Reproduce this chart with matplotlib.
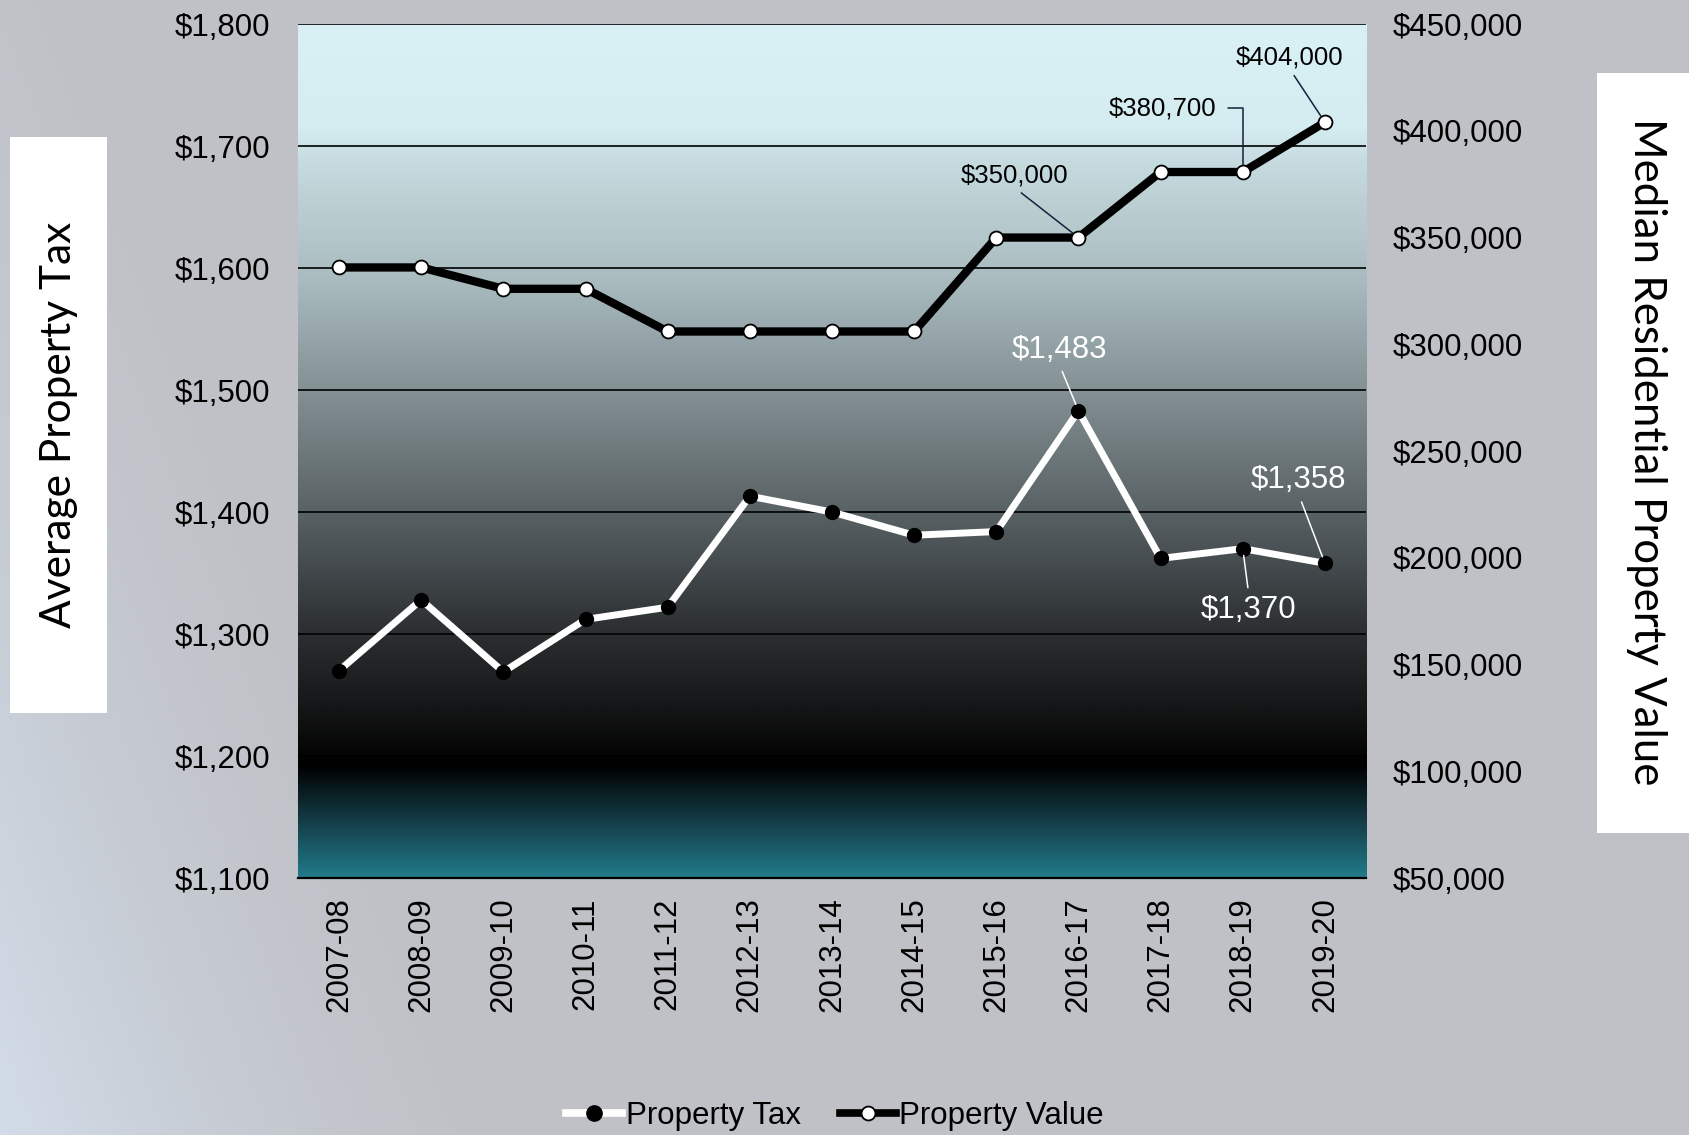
import numpy as np
import matplotlib.pyplot as plt
from matplotlib.colors import LinearSegmentedColormap, to_rgb
from matplotlib.lines import Line2D
from matplotlib.patches import Rectangle
from matplotlib.ticker import FuncFormatter

# fiscal years
years = ["2007-08", "2008-09", "2009-10", "2010-11", "2011-12", "2012-13", "2013-14",
         "2014-15", "2015-16", "2016-17", "2017-18", "2018-19", "2019-20"]
# average property tax ($)
property_tax = [1270, 1328, 1269, 1312, 1322, 1413, 1400, 1381, 1384, 1483, 1362, 1370, 1358]
# median residential property value ($)
property_value = [336000, 336000, 326000, 326000, 306000, 306000, 306000, 306000,
                  350000, 350000, 380700, 380700, 404000]

# which points get a value label, with the label offset in pixels
tax_callouts = {9: (-19, 61), 11: (6, -61), 12: (-26, 83)}
value_callouts = {9: (-64, 62), 11: (-80, 64), 12: (-35, 65)}

TICK_FONT = "Liberation Sans"
TITLE_FONT = "Lato"

fig = plt.figure(figsize=(16.9, 11.35), dpi=100)
fig.patch.set_facecolor("#bfc1c6")

# soft bluish sheen in the lower left of the slide background
bg = fig.add_axes([0, 0, 1, 1], zorder=-10)
bg.axis("off")
gx, gy = np.meshgrid(np.linspace(0, 1, 340), np.linspace(0, 1, 230))
w = np.clip(1.0 - gx / 0.30 - gy / 1.2, 0, 1) ** 1.5
base = np.array(to_rgb("#bfc1c6"))
hi = np.array(to_rgb("#d2dce8"))
bg.imshow(base + (hi - base) * w[..., None], extent=[0, 1, 0, 1], origin="lower",
          aspect="auto")
bg.set_xlim(0, 1)
bg.set_ylim(0, 1)

ax = fig.add_axes([0.1763, 0.2264, 0.632, 0.7524])
ax2 = ax.twinx()

# plot area fill: pale cyan fading down through grey to black, then teal
plot_cmap = LinearSegmentedColormap.from_list("plotfill", [
    (0.00, "#d9f0f5"), (0.12, "#d5ecf0"), (0.16, "#c6dbdf"), (0.30, "#a9bbbf"),
    (0.45, "#7d898d"), (0.57, "#596265"), (0.70, "#2f3335"), (0.80, "#151617"),
    (0.87, "#000000"), (0.93, "#133841"), (1.00, "#217a8a")])
grad = np.linspace(0, 1, 512)[:, None]
ax.imshow(grad, cmap=plot_cmap, extent=[-0.5, 12.5, 1100, 1800], aspect="auto",
          zorder=0, interpolation="bilinear")

x = np.arange(len(years))
ax.plot(x, property_tax, color="white", lw=5, marker="o", ms=10,
        mfc="black", mec="black", zorder=4, solid_joinstyle="round")
ax2.plot(x, property_value, color="black", lw=6, marker="o", ms=10,
         mfc="white", mec="black", mew=1.3, zorder=4, solid_joinstyle="round")

ax.set_xlim(-0.5, 12.5)
ax.set_ylim(1100, 1800)
ax.set_yticks(np.arange(1100, 1801, 100))
ax2.set_ylim(50000, 450000)
ax2.set_yticks(np.arange(50000, 450001, 50000))
ax.yaxis.set_major_formatter(FuncFormatter(lambda v, p: f"${v:,.0f}"))
ax2.yaxis.set_major_formatter(FuncFormatter(lambda v, p: f"${v:,.0f}"))
ax.set_xticks(x)
ax.set_xticklabels(years, rotation=90)

ax.grid(axis="y", color="black", lw=1.2)
ax.grid(axis="x", visible=False)
for a in (ax, ax2):
    for s in ("top", "left", "right"):
        a.spines[s].set_visible(False)
ax2.spines["bottom"].set_visible(False)
ax.spines["bottom"].set_color("black")
ax.spines["bottom"].set_linewidth(1.6)
ax.spines["bottom"].set_zorder(5)

ax.tick_params(axis="y", length=0, pad=20, labelsize=22.5)
ax.tick_params(axis="x", length=0, pad=14, labelsize=22.5)
ax2.tick_params(axis="y", length=0, pad=19, labelsize=22.5)
for lab in ax.get_xticklabels() + ax.get_yticklabels() + ax2.get_yticklabels():
    lab.set_fontfamily(TICK_FONT)
    lab.set_color("black")

# value labels on the tax line (white)
for i, (dx, dy) in tax_callouts.items():
    rel = (0.5, 1) if dy < 0 else (0.5, 0)
    ax.annotate(f"${property_tax[i]:,.0f}", xy=(x[i], property_tax[i]),
                xytext=(dx, dy), textcoords="offset pixels", ha="center", va="center",
                fontsize=22.5, family=TICK_FONT, color="white", zorder=6,
                arrowprops=dict(arrowstyle="-", color="white", lw=1.1,
                                relpos=rel, shrinkA=3, shrinkB=5))

# value labels on the property value line (black)
for i, (dx, dy) in value_callouts.items():
    if i == 11:
        props = dict(arrowstyle="-", color="#15203a", lw=1.1, relpos=(1, 0.5),
                     shrinkA=6, shrinkB=5,
                     connectionstyle="angle,angleA=0,angleB=90,rad=0")
    else:
        props = dict(arrowstyle="-", color="#15203a", lw=1.1, relpos=(0.5, 0),
                     shrinkA=3, shrinkB=5)
    ax2.annotate(f"${property_value[i]:,.0f}", xy=(x[i], property_value[i]),
                 xytext=(dx, dy), textcoords="offset pixels", ha="center", va="center",
                 fontsize=18.5, family=TICK_FONT, color="black", zorder=6,
                 arrowprops=props)

# axis titles in white boxes at the slide edges
fig.patches.append(Rectangle((0.0059, 0.3718), 0.0574, 0.5075, transform=fig.transFigure,
                             facecolor="white", edgecolor="none", zorder=1))
fig.text(0.0352, 0.6256, "Average Property Tax", rotation=90, ha="center", va="center",
         fontsize=30.5, family=TITLE_FONT, color="black")
fig.patches.append(Rectangle((0.945, 0.266), 0.06, 0.6696, transform=fig.transFigure,
                             facecolor="white", edgecolor="none", zorder=1))
fig.text(0.974, 0.6018, "Median Residential Property Value", rotation=-90, ha="center",
         va="center", fontsize=31.5, family=TITLE_FONT, color="black")

handles = [
    Line2D([], [], color="white", lw=5.5, marker="o", ms=11, mfc="black", mec="black"),
    Line2D([], [], color="black", lw=5.5, marker="o", ms=10, mfc="white", mec="black", mew=1.3),
]
fig.legend(handles, ["Property Tax", "Property Value"], loc="center",
           bbox_to_anchor=(0.494, 0.017), ncol=2, frameon=False, handlelength=1.8,
           handletextpad=0.1, columnspacing=1.25,
           prop={"family": TICK_FONT, "size": 22.5})

fig.savefig("out.png", dpi=100, facecolor=fig.get_facecolor())
